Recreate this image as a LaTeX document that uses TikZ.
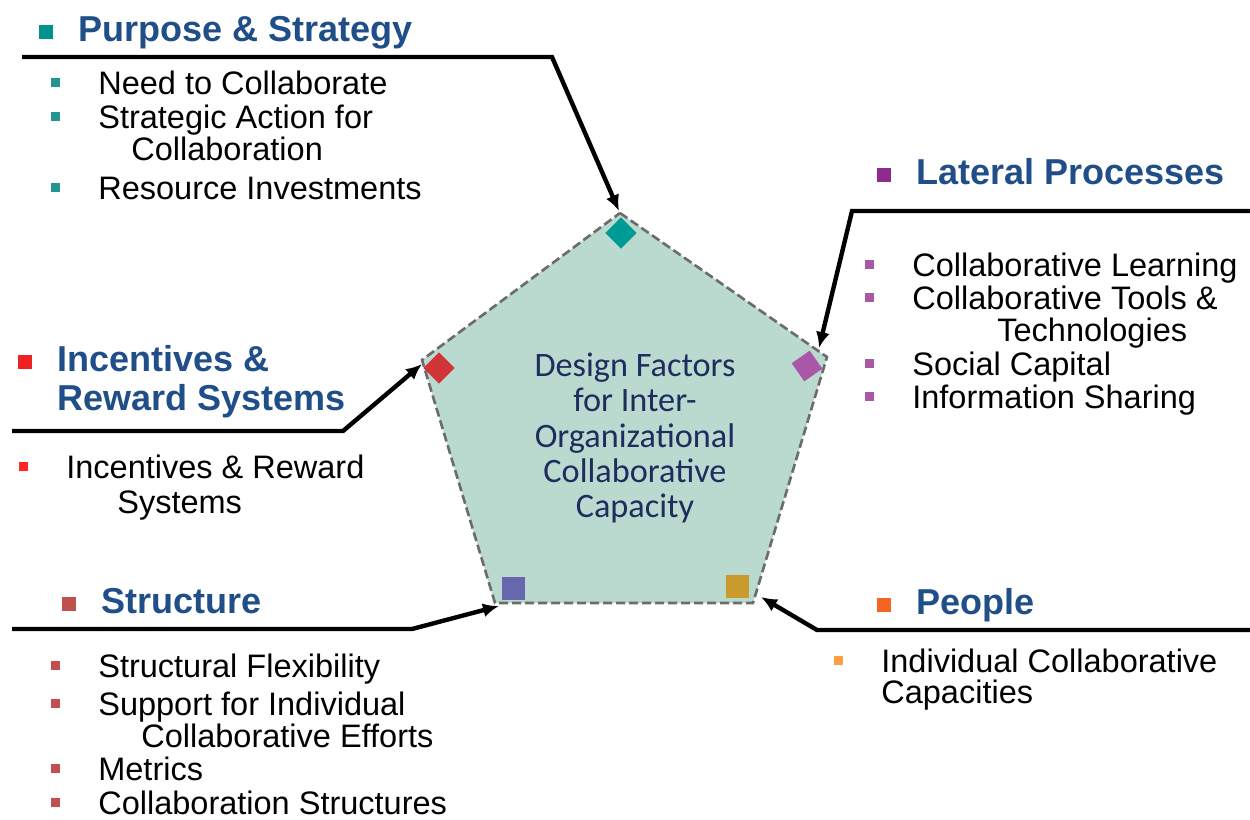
\documentclass[tikz,border=0pt]{standalone}
\usepackage{fontspec}
\setmainfont{Liberation Sans}
\newfontfamily\centerfont{Carlito}
\usetikzlibrary{arrows.meta}

\definecolor{headblue}{HTML}{1F4E88}
\definecolor{navy}{HTML}{1F2D5E}
\definecolor{pentfill}{HTML}{BAD9CF}
\definecolor{psteal}{HTML}{009B95}
\definecolor{lppurple}{HTML}{A957A7}
\definecolor{lphead}{HTML}{8E2C8E}
\definecolor{irred}{HTML}{D13438}
\definecolor{irhead}{HTML}{EE2222}
\definecolor{stblue}{HTML}{6767AE}
\definecolor{stred}{HTML}{C0504D}
\definecolor{pegold}{HTML}{C99A2E}
\definecolor{pehead}{HTML}{F26522}

% heading and item bullets
\newcommand{\hbul}[1]{\textcolor{#1}{\rule[0.04cm]{0.28cm}{0.28cm}}\hspace{0.5cm}}
\newcommand{\ibul}[1]{\textcolor{#1}{\rule[0.14cm]{0.18cm}{0.18cm}}\hspace{0.77cm}}

\begin{document}
\begin{tikzpicture}[x=0.02cm,y=-0.02cm,
  head/.style={anchor=base west, inner sep=0pt, text=headblue,
    font=\fontsize{20.5}{24}\selectfont\bfseries},
  item/.style={anchor=base west, inner sep=0pt,
    font=\fontsize{18.5}{22}\selectfont},
  link/.style={line width=2.5pt, -{Latex[length=0.32cm,width=0.28cm]}},
  diam/.style={fill=#1, rotate=45, minimum size=0.44cm, inner sep=0pt},
  sqr/.style={fill=#1, minimum size=0.46cm, inner sep=0pt}]
\useasboundingbox (0,0) rectangle (1250,819);

% the pentagon
\coordinate (pt) at (620,213);
\coordinate (pr) at (827,357);
\coordinate (pbr) at (753,603);
\coordinate (pbl) at (495,603);
\coordinate (pl) at (422,360);
\draw[fill=pentfill, draw=gray!85!black, line width=1.5pt, dash pattern=on 0.18cm off 0.08cm]
  (pt) -- (pr) -- (pbr) -- (pbl) -- (pl) -- cycle;
\node[align=center, text=navy, font=\centerfont\fontsize{19.5}{20}\selectfont]
  (center) at (635,438) {Design Factors\\for Inter-\\Organizational\\Collaborative\\Capacity};

\node[diam=psteal] (mps) at (621,233) {};
\node[diam=lppurple, rotate=-10] (mlp) at (807,366) {};
\node[diam=irred] (mir) at (439,368) {};
\node[sqr=stblue] (mst) at (513,588) {};
\node[sqr=pegold] (mpe) at (737,586) {};

% Purpose & Strategy
\node[head] (hps) at (39,41) {\hbul{psteal!95!black}Purpose \& Strategy};
\node[item] (ps1) at (50.5,94) {\ibul{teal!85!white}Need to Collaborate};
\node[item] (ps2) at (50.5,128) {\ibul{teal!85!white}Strategic Action for};
\node[item] (ps2b) at (131,160) {Collaboration};
\node[item] (ps3) at (50.5,199) {\ibul{teal!85!white}Resource Investments};
\coordinate (psa) at (22,57);
\coordinate (psb) at (552,57);
\coordinate (pstip) at (619,211);
\draw[link] (psa) -- (psb) -- (pstip);

% Lateral Processes
\node[head] (hlp) at (877,184) {\hbul{lphead}Lateral Processes};
\node[item] (lp1) at (864.5,276) {\ibul{lppurple}Collaborative Learning};
\node[item] (lp2) at (864.5,309) {\ibul{lppurple}Collaborative Tools \&};
\node[item] (lp2b) at (997,341) {Technologies};
\node[item] (lp3) at (864.5,375) {\ibul{lppurple}Social Capital};
\node[item] (lp4) at (864.5,408) {\ibul{lppurple}Information Sharing};
\coordinate (lpa) at (1250,211);
\coordinate (lpb) at (852,211);
\coordinate (lptip) at (819,348);
\draw[link] (lpa) -- (lpb) -- (lptip);

% Incentives & Reward Systems
\node[head] (hir) at (18,371) {\hbul{irhead}Incentives \&};
\node[head] (hirb) at (57,410) {Reward Systems};
\node[item] (ir1) at (18.5,478) {\ibul{red!85!white}Incentives \& Reward};
\node[item] (ir1b) at (117,513) {Systems};
\coordinate (ira) at (12,431);
\coordinate (irb) at (343,431);
\coordinate (irtip) at (422,364);
\draw[link] (ira) -- (irb) -- (irtip);

% Structure
\node[head] (hst) at (62,613) {\hbul{stred}Structure};
\node[item] (st1) at (50.5,677) {\ibul{stred}Structural Flexibility};
\node[item] (st2) at (50.5,715) {\ibul{stred}Support for Individual};
\node[item] (st2b) at (141,747) {Collaborative Efforts};
\node[item] (st3) at (50.5,780) {\ibul{stred}Metrics};
\node[item] (st4) at (50.5,814) {\ibul{stred}Collaboration Structures};
\coordinate (sta) at (12,629);
\coordinate (stb) at (412,629);
\coordinate (sttip) at (499,606);
\draw[link] (sta) -- (stb) -- (sttip);

% People
\node[head] (hpe) at (877,614) {\hbul{pehead}People};
\node[item] (pe1) at (833.5,672) {\ibul{orange!75!white}Individual Collaborative};
\node[item] (pe1b) at (881,703) {Capacities};
\coordinate (pea) at (1250,630);
\coordinate (peb) at (817,630);
\coordinate (petip) at (761,597);
\draw[link] (pea) -- (peb) -- (petip);
\end{tikzpicture}
\end{document}
